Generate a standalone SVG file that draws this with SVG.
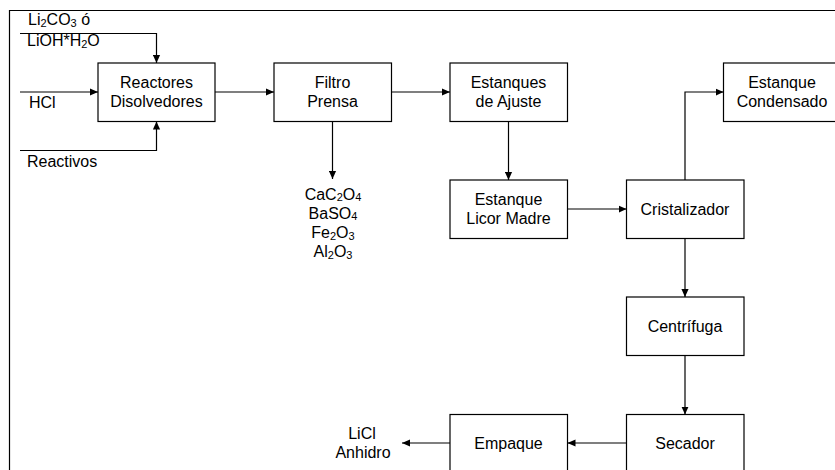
<svg xmlns="http://www.w3.org/2000/svg" width="835" height="470" viewBox="0 0 835 470">
  <defs>
    <marker id="arrow" viewBox="0 0 10 10" refX="10" refY="5" markerWidth="8" markerHeight="8" markerUnits="userSpaceOnUse" orient="auto">
      <path d="M0,0.5 L10,5 L0,9.5 Z" fill="#000"/>
    </marker>
    <style>
      .box { fill: #fff; stroke: #000; stroke-width: 1.2; }
      .frame { fill: none; stroke: #000; stroke-width: 1.2; }
      .line { fill: none; stroke: #000; stroke-width: 1.2; }
      .arr { fill: none; stroke: #000; stroke-width: 1.2; marker-end: url(#arrow); }
      text { font-family: "Liberation Sans", Arial, sans-serif; font-size: 16px; fill: #000; }
      .c { text-anchor: middle; }
      .sub { font-size: 11px; }
    </style>
  </defs>

  <rect x="0" y="0" width="835" height="470" fill="#fff"/>
  <path class="frame" d="M9.5,470 V10.5 H835"/>

  <!-- process units -->
  <g id="reactores">
    <rect class="box" x="98" y="63" width="117" height="58.5"/>
    <text class="c" x="156.5" y="87.5">Reactores</text>
    <text class="c" x="156.5" y="106.5">Disolvedores</text>
  </g>
  <g id="filtro">
    <rect class="box" x="274" y="63" width="117.5" height="58.5"/>
    <text class="c" x="332.5" y="87.5">Filtro</text>
    <text class="c" x="332.5" y="106.5">Prensa</text>
  </g>
  <g id="estanques-ajuste">
    <rect class="box" x="450" y="63" width="117.5" height="58.5"/>
    <text class="c" x="508.5" y="87.5">Estanques</text>
    <text class="c" x="508.5" y="106.5">de Ajuste</text>
  </g>
  <g id="estanque-condensado">
    <rect class="box" x="723.5" y="63" width="118" height="58.5"/>
    <text class="c" x="782" y="87.5">Estanque</text>
    <text class="c" x="782" y="106.5">Condensado</text>
  </g>
  <g id="licor-madre">
    <rect class="box" x="450" y="180" width="117.5" height="58.5"/>
    <text class="c" x="508.5" y="204.5">Estanque</text>
    <text class="c" x="508.5" y="223.5">Licor Madre</text>
  </g>
  <g id="cristalizador">
    <rect class="box" x="626.5" y="180" width="117.5" height="58.5"/>
    <text class="c" x="685" y="215">Cristalizador</text>
  </g>
  <g id="centrifuga">
    <rect class="box" x="626.5" y="297" width="117.5" height="58.5"/>
    <text class="c" x="685" y="332">Centrífuga</text>
  </g>
  <g id="secador">
    <rect class="box" x="626.5" y="414.5" width="117.5" height="60"/>
    <text class="c" x="685" y="449">Secador</text>
  </g>
  <g id="empaque">
    <rect class="box" x="450" y="414.5" width="117.5" height="60"/>
    <text class="c" x="508.5" y="449">Empaque</text>
  </g>

  <!-- stream labels -->
  <g id="feed-labels">
    <text x="28" y="25">Li<tspan class="sub" dy="1.5">2</tspan><tspan dy="-1.5">CO</tspan><tspan class="sub" dy="1.5">3</tspan><tspan dy="-1.5"> ó</tspan></text>
    <text x="27" y="46">LiOH*H<tspan class="sub" dy="1.5">2</tspan><tspan dy="-1.5">O</tspan></text>
    <text x="29" y="108">HCl</text>
    <text x="27" y="167">Reactivos</text>
  </g>
  <g id="residuos">
    <text class="c" x="333" y="199.5">CaC<tspan class="sub" dy="1.5">2</tspan><tspan dy="-1.5">O</tspan><tspan class="sub" dy="1.5">4</tspan></text>
    <text class="c" x="333" y="218.5">BaSO<tspan class="sub" dy="1.5">4</tspan></text>
    <text class="c" x="333" y="238">Fe<tspan class="sub" dy="1.5">2</tspan><tspan dy="-1.5">O</tspan><tspan class="sub" dy="1.5">3</tspan></text>
    <text class="c" x="333" y="257">Al<tspan class="sub" dy="1.5">2</tspan><tspan dy="-1.5">O</tspan><tspan class="sub" dy="1.5">3</tspan></text>
  </g>
  <g id="producto">
    <text class="c" x="362" y="438.5">LiCl</text>
    <text class="c" x="363" y="458">Anhidro</text>
  </g>

  <!-- connectors -->
  <g id="connectors">
    <path class="arr" d="M20,33.5 H156.5 V63"/>
    <path class="arr" d="M20,92 H98"/>
    <path class="arr" d="M20,150.5 H156.5 V121.5"/>
    <path class="arr" d="M215,92 H274"/>
    <path class="arr" d="M391.5,92 H450"/>
    <path class="arr" d="M332.5,121.5 V179"/>
    <path class="arr" d="M508.5,121.5 V180"/>
    <path class="arr" d="M567.5,209 H626.5"/>
    <path class="arr" d="M685,180 V92 H723.5"/>
    <path class="arr" d="M685,238.5 V297"/>
    <path class="arr" d="M685,355.5 V414.5"/>
    <path class="arr" d="M626.5,443 H567.5"/>
    <path class="arr" d="M450,443 H402"/>
  </g>
</svg>
